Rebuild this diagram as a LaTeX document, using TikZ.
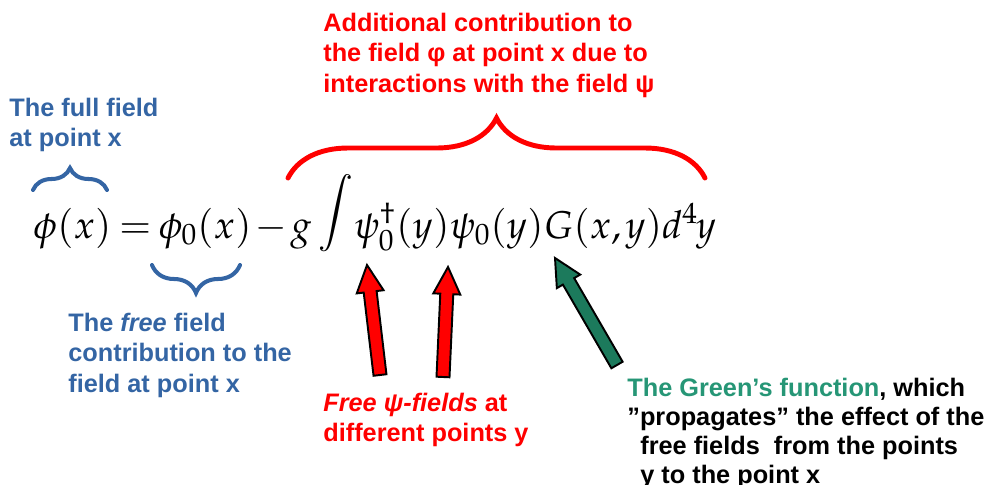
\documentclass[tikz,border=0pt]{standalone}
\usepackage{amsmath,amssymb}
\usepackage{mathpazo}
\usepackage[no-math]{fontspec}
\setmainfont{Liberation Sans}
\usepackage{xcolor}
\usepackage{tikz}
\usetikzlibrary{calc, decorations.pathreplacing}

\definecolor{noteblue}{RGB}{52,101,164}
\definecolor{notered}{RGB}{255,0,0}
\definecolor{greentext}{RGB}{38,150,118}
\definecolor{greenarrow}{RGB}{28,122,92}

% block arrow from tail #1 to head #2, filled with #3
\newcommand{\blockarrow}[3]{%
  \coordinate (#2-base) at ($(#2)!0.54cm!(#1)$);
  \filldraw[fill=#3, draw=black, line width=1.1pt]
    ($(#1)!0.13cm!90:(#2)$) -- ($(#2-base)!0.13cm!90:(#2)$)
    -- ($(#2-base)!0.27cm!90:(#2)$) -- (#2)
    -- ($(#2-base)!0.27cm!-90:(#2)$) -- ($(#2-base)!0.13cm!-90:(#2)$)
    -- ($(#1)!0.13cm!-90:(#2)$) -- cycle;}
% raised integral sign
\newcommand{\bigint}{\mathop{\raisebox{0.4em}{$\displaystyle\int$}}}

\begin{document}
\begin{tikzpicture}[
  x=0.02cm, y=0.02cm,
  note/.style={font=\bfseries\fontsize{14.4}{17.2}\selectfont, align=left, inner sep=0pt},
  bluenote/.style={note, text=noteblue},
  rednote/.style={note, text=notered},
  blacknote/.style={note, text=black, font=\bfseries\fontsize{14.4}{16.5}\selectfont},
  bluebrace/.style={draw=noteblue, line width=2.3pt, line cap=round,
                    decorate, decoration={brace, amplitude=#1}},
  redbrace/.style={draw=notered, line width=2.8pt, line cap=round,
                   decorate, decoration={brace, amplitude=#1}}
]
  \useasboundingbox (0,0) rectangle (994,-484);

  % the equation
  \node[anchor=base west, inner sep=0pt, font=\fontsize{22}{28}\selectfont] (eqn) at (33,-238)
    {$\thickmuskip=3.5mu \medmuskip=1.5mu
      \phi(x) = \phi_0(x) - g\bigint\mkern-3mu \psi_0^\dagger(y)\psi_0(y)G(x,\mkern-1mu y)d^4\mkern-1mu y$};

  % braces
  \coordinate (fullL) at (33,-190);
  \coordinate (fullR) at (107,-190);
  \coordinate (freeL) at (152,-265);
  \coordinate (freeR) at (240,-265);
  \coordinate (intL) at (288,-178);
  \coordinate (intR) at (705,-178);
  \draw[bluebrace=0.44cm] (fullL) -- (fullR);
  \draw[bluebrace=0.56cm] (freeR) -- (freeL);
  \draw[redbrace=1.2cm] (intL) -- (intR);

  % notes
  \node[bluenote, anchor=north west] (fullnote) at (9,-98) {The full field\\at point x};
  \node[bluenote, anchor=north west] (freenote) at (68,-313)
    {The \textit{free} field\\contribution to the\\field at point x};
  \node[rednote, anchor=north west] (addnote) at (323,-13)
    {Additional contribution to\\the field φ at point x due to\\interactions with the field ψ};
  \node[rednote, anchor=north west] (psinote) at (323,-393)
    {\textit{Free ψ-fields} at\\different points y};
  \node[blacknote, anchor=north west] (greennote) at (627,-378)
    {\textcolor{greentext}{The Green’s function}, which\\
     \mbox{}”propagates” the effect of the\\
     \hspace*{0.26cm}free fields\ \ from the points\\
     \hspace*{0.26cm}y to the point x};

  % arrows
  \coordinate (psiA-tail) at (380,-375);
  \coordinate (psiA-head) at (367,-265);
  \coordinate (psiB-tail) at (443,-377);
  \coordinate (psiB-head) at (448,-267);
  \coordinate (green-tail) at (617,-365);
  \coordinate (green-head) at (555,-258);
  \blockarrow{psiA-tail}{psiA-head}{red}
  \blockarrow{psiB-tail}{psiB-head}{red}
  \blockarrow{green-tail}{green-head}{greenarrow}
\end{tikzpicture}
\end{document}
